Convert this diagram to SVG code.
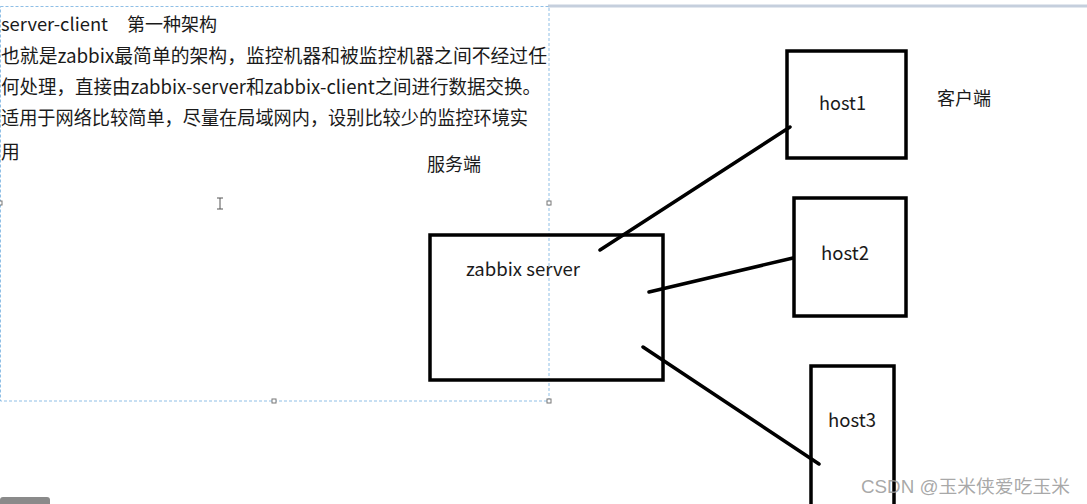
<svg xmlns="http://www.w3.org/2000/svg" width="1087" height="504" viewBox="0 0 1087 504">
<style>
.t{font-family:"Microsoft YaHei","Noto Sans CJK SC","Noto Sans",sans-serif;fill:#1a1a1a}
.box{fill:none;stroke:#000;stroke-width:3.5}
.conn{stroke:#000;stroke-width:3.5;stroke-linecap:round}
.sel{fill:none;stroke:#8fbfe6;stroke-width:1;stroke-dasharray:3 2}
.h{fill:#fff;stroke:#777;stroke-width:1}
</style>
<rect width="1087" height="504" fill="#fff"/>
<line x1="548" y1="6" x2="1087" y2="6" stroke="#c5cfdd" stroke-width="3"/>
<g id="textbox">
<rect class="sel" x="0.5" y="6.5" width="548.5" height="394.5"/>
<rect class="h" x="547" y="201" width="4" height="4"/>
<rect class="h" x="272" y="399" width="4" height="4"/>
<rect class="h" x="547" y="399" width="4" height="4"/>
<rect class="h" x="-2" y="201" width="4" height="4"/>
<text class="t" x="1" y="31" font-size="18"><tspan textLength="107" lengthAdjust="spacingAndGlyphs">server-client</tspan><tspan x="127">第一种架构</tspan></text>
<text class="t" x="1" y="63" font-size="18.8" textLength="546" lengthAdjust="spacingAndGlyphs">也就是zabbix最简单的架构，监控机器和被监控机器之间不经过任</text>
<text class="t" x="1" y="94" font-size="18.8" textLength="540" lengthAdjust="spacingAndGlyphs">何处理，直接由zabbix-server和zabbix-client之间进行数据交换。</text>
<text class="t" x="1" y="125" font-size="18.8" textLength="527" lengthAdjust="spacingAndGlyphs">适用于网络比较简单，尽量在局域网内，设别比较少的监控环境实</text>
<text class="t" x="1" y="159" font-size="18.8">用</text>
<path d="M217 198h6M220 198v11M217 209h6" stroke="#555" stroke-width="1" fill="none"/>
</g>
<text id="label-server" class="t" x="427" y="171" font-size="18">服务端</text>
<text id="label-client" class="t" x="937" y="105" font-size="18">客户端</text>
<g id="connectors">
<line class="conn" x1="600" y1="250" x2="790" y2="127"/>
<line class="conn" x1="649" y1="292" x2="793" y2="258"/>
<line class="conn" x1="643" y1="347" x2="819" y2="464"/>
</g>
<g id="zabbix-server">
<rect class="box" x="430" y="235" width="233" height="145"/>
<text class="t" x="466" y="276" font-size="18.5" textLength="114" lengthAdjust="spacingAndGlyphs">zabbix server</text>
</g>
<g id="host1">
<rect class="box" x="787" y="51" width="119" height="107"/>
<text class="t" x="819" y="110" font-size="18.5" textLength="47" lengthAdjust="spacingAndGlyphs">host1</text>
</g>
<g id="host2">
<rect class="box" x="794" y="198" width="112" height="118"/>
<text class="t" x="821" y="260" font-size="18.5" textLength="48" lengthAdjust="spacingAndGlyphs">host2</text>
</g>
<g id="host3">
<rect class="box" x="811" y="366" width="83" height="150"/>
<text class="t" x="828" y="427" font-size="18.5" textLength="48" lengthAdjust="spacingAndGlyphs">host3</text>
</g>
<text x="861" y="493" font-size="18" font-family="'Liberation Sans','Noto Sans CJK SC',sans-serif" fill="#999" fill-opacity="0.85" textLength="209" lengthAdjust="spacingAndGlyphs">CSDN @玉米侠爱吃玉米</text>
<rect x="0" y="497" width="50" height="12" rx="3" fill="#8a8a8a"/>
</svg>
